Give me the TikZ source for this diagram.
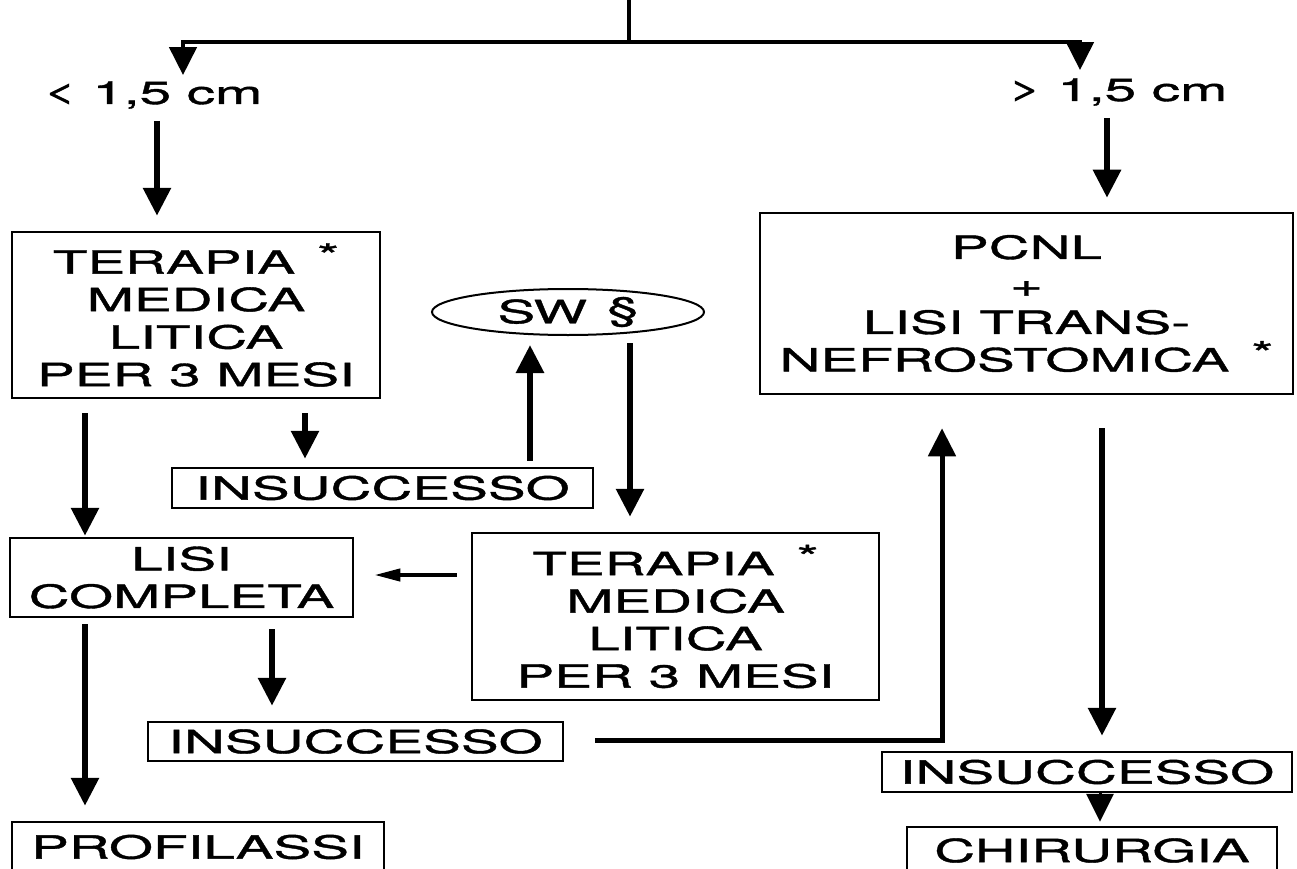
\documentclass[tikz,border=0pt]{standalone}
\usepackage{fontspec}
\setmainfont[FakeStretch=1.77,FakeBold=1.2]{TeX Gyre Heros}
\usetikzlibrary{arrows.meta,calc,shapes.geometric}

\begin{document}
\begin{tikzpicture}[x=1pt,y=-1pt,
  every node/.style={font=\fontsize{32}{37.5}\selectfont},
  box/.style={draw,line width=2.5pt,inner sep=0pt,align=center},
  arr/.style={line width=6pt,-{Triangle[width=27pt,length=28pt]}},
  larr/.style={line width=4pt,-{Triangle[width=12pt,length=26pt]}},
  line/.style={line width=4.5pt}]
\useasboundingbox (0,0) rectangle (1297,869);

\node[inner sep=0pt] (lt) at (153,95) {\raisebox{2pt}{<} 1,5 cm};
\node[inner sep=0pt] (gt) at (1118,92) {\raisebox{2pt}{>} 1,5 cm};
\node[box,minimum width=368pt,minimum height=166pt] (ter1) at (196,315)
  {TERAPIA\hspace{22pt}\raisebox{7pt}{*}\\MEDICA\\LITICA\\PER 3 MESI};
\node[box,minimum width=533pt,minimum height=181pt] (pcnl) at (1026.5,303.5)
  {PCNL\\+\\LISI TRANS-\\NEFROSTOMICA\hspace{22pt}\raisebox{7pt}{*}};
\node[draw,ellipse,line width=2pt,inner sep=0pt,minimum width=272pt,minimum height=46pt] (sw) at (568,312)
  {SW\hspace{20pt}\raisebox{3pt}{§}};
\node[box,minimum width=421pt,minimum height=40pt] (ins1) at (382.5,488) {INSUCCESSO};
\node[box,minimum width=407pt,minimum height=167pt] (ter2) at (675.5,616.5)
  {TERAPIA\hspace{22pt}\raisebox{7pt}{*}\\MEDICA\\LITICA\\PER 3 MESI};
\node[box,minimum width=343pt,minimum height=79pt] (lisi) at (181.5,577.5) {LISI\\COMPLETA};
\node[box,minimum width=415pt,minimum height=39pt] (ins2) at (355.5,741.5) {INSUCCESSO};
\node[box,minimum width=372pt,minimum height=50pt] (prof) at (198,847) {PROFILASSI};
\node[box,minimum width=410pt,minimum height=40pt] (ins3) at (1087,772) {INSUCCESSO};
\node[box,minimum width=370pt,minimum height=47pt] (chir) at (1092,850.5) {CHIRURGIA};

\coordinate (top) at (629,0);
\coordinate (junc) at (629,42);
\draw[line] (top) -- (junc);
\draw[arr,line width=4.5pt] (junc) -| ($(lt.north)+(30,-6)$);
\draw[arr,line width=4.5pt] (junc) -| ($(gt.north)+(-38,-8)$);
\draw[arr] ($(lt.south)+(4,12)$) -- ($(ter1.north)+(-39,-15)$);
\draw[arr] ($(gt.south)+(-11,12)$) -- ($(pcnl.north)+(80.5,-14)$);
\draw[arr] ($(ter1.south)+(-111,14)$) -- ($(lisi.north)+(-96.5,-1)$);
\draw[arr] ($(ter1.south)+(109,14)$) -- ($(ins1.north)+(-77.5,-8)$);
\draw[arr] ($(ins1.north)+(147.5,-6)$) -- ($(sw.south)+(-38,9)$);
\draw[arr] ($(sw.south)+(62,7)$) -- ($(ter2.north)+(-45.5,-15)$);
\draw[larr] ($(ter2.west)+(-14,-41.5)$) -- ($(lisi.east)+(20,-2.5)$);
\draw[arr] ($(lisi.south)+(-96.5,6)$) -- ($(prof.north)+(-113,-15)$);
\draw[arr] ($(lisi.south)+(90.5,11)$) -- ($(ins2.north)+(-83.5,-15)$);
\draw[arr,line width=5pt] ($(ins2.east)+(31,-1.5)$) -| ($(pcnl.south)+(-84.5,33)$);
\draw[arr] ($(pcnl.south)+(75.5,33)$) -- ($(ins3.north)+(15,-15)$);
\draw[arr,line width=3pt] ($(ins3.south)+(13,0)$) -- ($(chir.north)+(8,-4)$);
\end{tikzpicture}
\end{document}
